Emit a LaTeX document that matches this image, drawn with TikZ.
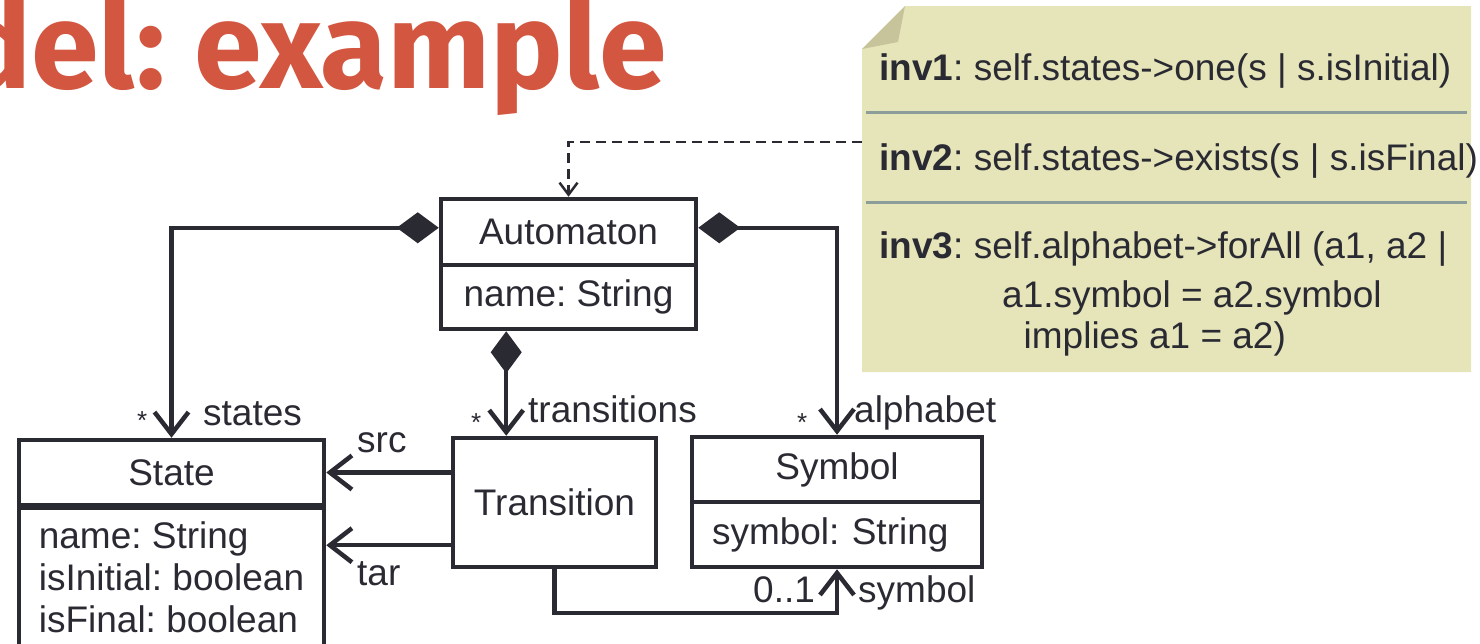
\documentclass[tikz,border=0pt]{standalone}
\usepackage{fontspec}
\setmainfont{Liberation Sans}
\newfontfamily\titlefont{Fira Sans}
\usetikzlibrary{arrows.meta,calc}
\frenchspacing

\newlength{\du}
\setlength{\du}{1pt}

\definecolor{umlline}{rgb}{0.165,0.165,0.200}
\definecolor{titlered}{rgb}{0.827,0.337,0.251}
\definecolor{notefill}{rgb}{0.902,0.894,0.725}
\definecolor{notefold}{rgb}{0.780,0.765,0.608}
\definecolor{noterule}{rgb}{0.553,0.616,0.600}

\tikzset{
  umlbox/.style={draw=umlline, line width=4.5pt, fill=white, inner sep=0pt, text=umlline, font=\fontsize{37}{42}\selectfont},
  umllbl/.style={text=umlline, inner sep=0pt, anchor=base west, font=\fontsize{37}{42}\selectfont},
  umlmult/.style={text=umlline, inner sep=0pt, anchor=base west, font=\fontsize{26}{30}\selectfont},
  navarrow/.style={draw=umlline, line width=4.5pt, line cap=round, -{Straight Barb[length=22pt,width=34pt]}},
  comparrow/.style={draw=umlline, line width=4.5pt, line cap=round, {Diamond[length=42pt,width=31pt]}-{Straight Barb[length=22pt,width=34pt]}},
  deparrow/.style={draw=umlline, line width=2.5pt, dash pattern=on 10pt off 6pt, -{Straight Barb[length=12pt,width=18pt]}},
}

\begin{document}
\begin{tikzpicture}
\pgftransformxscale{1.000000}
\pgftransformyscale{-1.000000}
\useasboundingbox (0\du,0\du) rectangle (1480\du,643\du);
% title
\node[anchor=base west, text=titlered, inner sep=0pt, font=\fontsize{122}{122}\titlefont\bfseries] (title) at (-42\du,88\du) {del: example};
% note with invariants
\fill[notefill] (905\du,6\du)--(1471\du,6\du)--(1471\du,372\du)--(862\du,372\du)--(862\du,49\du)--cycle;
\fill[notefold] (905\du,6\du)--(898\du,42\du)--(862\du,49\du)--cycle;
\draw[noterule, line width=3pt] (866\du,112\du)--(1467\du,112\du);
\draw[noterule, line width=3pt] (866\du,202\du)--(1467\du,202\du);
\node[inner sep=0pt, minimum width=609\du, minimum height=366\du] (note) at (1166.5\du,189\du) {};
\node[umllbl] (inv1) at (879\du,80\du) {\textbf{inv1}: self.states->one(s | s.isInitial)};
\node[umllbl] (inv2) at (879\du,170\du) {\textbf{inv2}: self.states->exists(s | s.isFinal)};
\node[umllbl] (inv3) at (879\du,258\du) {\textbf{inv3}: self.alphabet->forAll (a1, a2 |};
\node[umllbl] (inv3b) at (1002\du,307\du) {a1.symbol = a2.symbol};
\node[umllbl] (inv3c) at (1023.5\du,348\du) {implies a1 = a2)};
% classes
\node[umlbox, minimum width=255\du, minimum height=66\du] (auto) at (568.5\du,232\du) {Automaton};
\node[umlbox, minimum width=255\du, minimum height=64\du] (autoattr) at (568.5\du,297\du) {name: String};
\node[umlbox, minimum width=305\du, minimum height=65\du] (state) at (171.5\du,472.5\du) {State};
\node[umlbox, anchor=north, minimum width=305\du, inner ysep=14\du, align=left] (stateattr) at (171.5\du,505\du) {name: String\\isInitial: boolean\\isFinal: boolean\rule[-30pt]{0pt}{30pt}};
\node[umlbox, minimum width=203\du, minimum height=129\du] (trans) at (554.5\du,502.5\du) {Transition};
\node[umlbox, minimum width=290\du, minimum height=65\du] (sym) at (837\du,469.5\du) {Symbol};
\node[umlbox, text width=250\du, inner xsep=20\du, minimum height=65\du, align=left] (symattr) at (837\du,534.5\du) {symbol: String};
% associations
\draw[deparrow] ($(note.north west)!0.372!(note.south west)$) -| (auto.north);
\draw[comparrow] ($(auto.north west)!0.44!(auto.south west)$) -| (state.north);
\draw[comparrow] ($(auto.north east)!0.44!(auto.south east)$) -| (sym.north);
\draw[comparrow] ($(autoattr.south west)!0.26!(autoattr.south east)$) coordinate (tdrop) -- (tdrop |- trans.north);
\draw[navarrow] (trans.west |- state.east) -- (state.east);
\draw[navarrow] ($(trans.south west)!0.18!(trans.north west)$) coordinate (tarstart) -- (tarstart -| stateattr.east);
\coordinate (symroute) at (0\du,613\du);
\draw[navarrow] (trans.south) -- (trans.south |- symroute) -| (symattr.south);
% role names and multiplicities
\node[umlmult] (mstates) at (137\du,429\du) {*};
\node[umllbl] (rstates) at (203\du,425\du) {states};
\node[umlmult] (mtrans) at (471\du,431\du) {*};
\node[umllbl] (rtrans) at (528\du,422\du) {transitions};
\node[umlmult] (malpha) at (797\du,431\du) {*};
\node[umllbl] (ralpha) at (854\du,422\du) {alphabet};
\node[umllbl] (rsrc) at (357\du,452\du) {src};
\node[umllbl] (rtar) at (357\du,585\du) {tar};
\node[umllbl] (msym) at (753\du,602\du) {0..1};
\node[umllbl] (rsym) at (858\du,602\du) {symbol};
\end{tikzpicture}
\end{document}
